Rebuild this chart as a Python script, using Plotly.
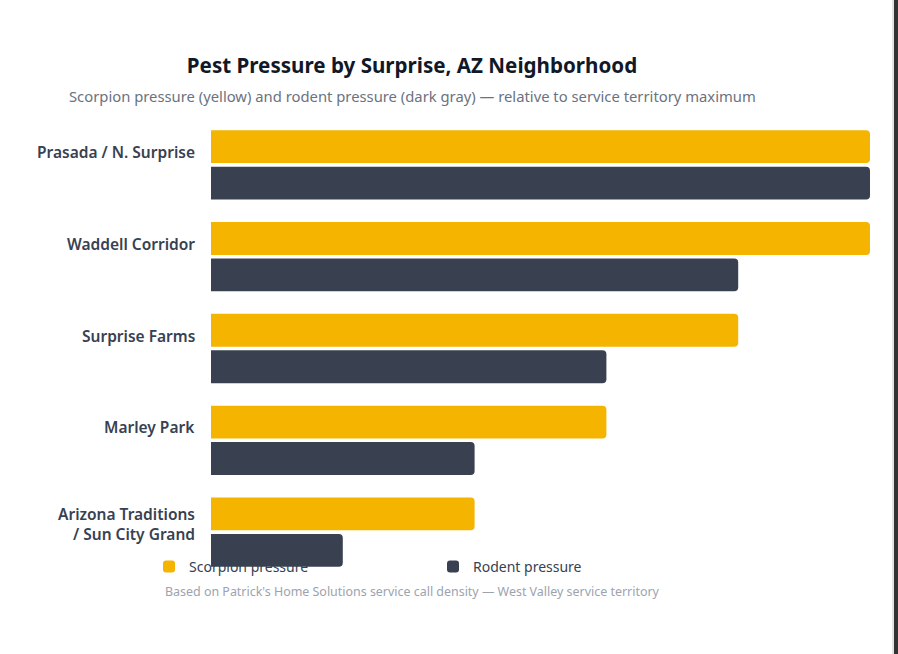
import plotly.graph_objects as go

neighborhoods = ["Prasada / N. Surprise", "Waddell Corridor", "Surprise Farms",
                 "Marley Park", "Arizona Traditions<br>/ Sun City Grand"]
scorpion = [100, 100, 80, 60, 40]
rodent = [100, 80, 60, 40, 20]

YELLOW = "#F4B400"
SLATE = "#394151"
FONT = "Noto Sans"

W, H = 898, 654
ML, MR, MT, MB = 211, 28, 119, 76
PW = W - ML - MR
PH = H - MT - MB


def px_x(x):
    return (x - ML) / PW


def px_y(y):
    return (H - MB - y) / PH


fig = go.Figure()
fig.add_trace(go.Bar(y=neighborhoods, x=scorpion, orientation="h", name="Scorpion pressure",
                     marker=dict(color=YELLOW, line=dict(width=0)), hoverinfo="skip"))
fig.add_trace(go.Bar(y=neighborhoods, x=rodent, orientation="h", name="Rodent pressure",
                     marker=dict(color=SLATE, line=dict(width=0)), hoverinfo="skip"))

for name in neighborhoods:
    two = "<br>" in name
    fig.add_annotation(x=0, xref="paper", y=name, yref="y", text=name, showarrow=False,
                       xanchor="right", yanchor="middle", align="right", xshift=-14,
                       yshift=8 if two else 13,
                       font=dict(family=FONT, size=15.5, color="#374151", weight=600))

fig.add_annotation(x=px_x(412), xref="paper", y=px_y(96), yref="paper",
                   text="Scorpion pressure (yellow) and rodent pressure (dark gray) — relative to service territory maximum",
                   showarrow=False, xanchor="center", yanchor="middle",
                   font=dict(family=FONT, size=14.8, color="#6b7280"))
fig.add_annotation(x=px_x(412), xref="paper", y=px_y(591), yref="paper",
                   text="Based on Patrick's Home Solutions service call density — West Valley service territory",
                   showarrow=False, xanchor="center", yanchor="middle",
                   font=dict(family=FONT, size=12.45, color="#9ca3af"))

fig.add_shape(type="rect", xref="paper", yref="paper", x0=px_x(894), x1=px_x(899),
              y0=px_y(0), y1=px_y(654), fillcolor="#333333", line=dict(width=0), layer="above")
fig.add_shape(type="line", xref="paper", yref="paper", x0=px_x(893), x1=px_x(893),
              y0=px_y(0), y1=px_y(654), line=dict(color="#c8c8c8", width=1), layer="above")

fig.update_layout(
    width=W, height=H,
    margin=dict(l=ML, r=MR, t=MT, b=MB, pad=0),
    paper_bgcolor="white", plot_bgcolor="white",
    barmode="group", bargap=0.205, bargroupgap=0.1, barcornerradius=4,
    title=dict(text="<b>Pest Pressure by Surprise, AZ Neighborhood</b>",
               x=412 / W, xanchor="center", xref="container",
               y=1 - 66 / H, yanchor="middle", yref="container",
               font=dict(family=FONT, size=20.6, color="#111827")),
    xaxis=dict(range=[0, 100], visible=False, fixedrange=True),
    yaxis=dict(autorange="reversed", showticklabels=False, showgrid=False,
               zeroline=False, showline=False, ticks="", fixedrange=True),
    legend=dict(orientation="h", x=px_x(717), xanchor="right", y=px_y(551), yanchor="top",
                font=dict(family=FONT, size=14, color="#374151"),
                entrywidth=239, bgcolor="rgba(0,0,0,0)", traceorder="normal"),
    showlegend=True,
)

fig.write_html("out.html", config={"displayModeBar": False})
